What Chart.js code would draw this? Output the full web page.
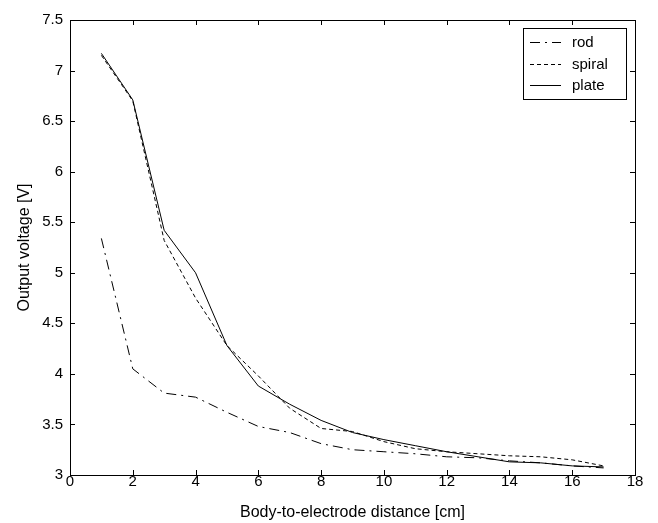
<!DOCTYPE html>
<html>
<head>
<meta charset="utf-8">
<script src="https://cdn.jsdelivr.net/npm/chart.js@4"></script>
<style>
  html, body { margin: 0; padding: 0; background: #fff; }
  #wrap { width: 658px; height: 523px; }
</style>
</head>
<body>
<div id="wrap"><canvas id="voltChart" width="658" height="523"></canvas></div>
<script>
// distances [cm] and measured output voltage [V]
const distance = [1, 2, 3, 4, 5, 6, 7, 8, 9, 10, 11, 12, 13, 14, 15, 16, 17];
const rod    = [5.34, 4.05, 3.81, 3.77, 3.62, 3.48, 3.42, 3.31, 3.25, 3.23, 3.21, 3.18, 3.17, 3.14, 3.12, 3.09, 3.07];
const spiral = [7.15, 6.70, 5.32, 4.75, 4.28, 3.98, 3.66, 3.46, 3.43, 3.33, 3.26, 3.23, 3.21, 3.19, 3.18, 3.15, 3.09];
const plate  = [7.17, 6.71, 5.42, 5.00, 4.28, 3.88, 3.70, 3.54, 3.42, 3.35, 3.29, 3.23, 3.18, 3.13, 3.12, 3.09, 3.08];

const xTicks = [0, 2, 4, 6, 8, 10, 12, 14, 16, 18];
const yTicks = [3, 3.5, 4, 4.5, 5, 5.5, 6, 6.5, 7, 7.5];

const FONT = "'Liberation Sans', Arial, sans-serif";

function toPoints(ys) {
  return distance.map((x, i) => ({ x: x, y: ys[i] }));
}

// matlab style box with inward ticks + line legend
const boxPlugin = {
  id: 'boxPlugin',
  afterDraw(chart) {
    const ctx = chart.ctx;
    const a = chart.chartArea;
    const xs = chart.scales.x, ys = chart.scales.y;
    const tl = 5;
    ctx.save();
    ctx.strokeStyle = '#000';
    ctx.lineWidth = 1;
    ctx.setLineDash([]);
    ctx.strokeRect(Math.round(a.left) + 0.5, Math.round(a.top) + 0.5,
      Math.round(a.right - a.left), Math.round(a.bottom - a.top));
    ctx.beginPath();
    xTicks.forEach(v => {
      const p = Math.round(xs.getPixelForValue(v)) + 0.5;
      ctx.moveTo(p, a.bottom); ctx.lineTo(p, a.bottom - tl);
      ctx.moveTo(p, a.top); ctx.lineTo(p, a.top + tl);
    });
    yTicks.forEach(v => {
      const p = Math.round(ys.getPixelForValue(v)) + 0.5;
      ctx.moveTo(a.left, p); ctx.lineTo(a.left + tl, p);
      ctx.moveTo(a.right, p); ctx.lineTo(a.right - tl, p);
    });
    ctx.stroke();

    // legend
    const lx = 523, ly = 28, lw = 103, lh = 71;
    ctx.fillStyle = '#fff';
    ctx.fillRect(lx, ly, lw, lh);
    ctx.strokeRect(lx + 0.5, ly + 0.5, lw, lh);
    ctx.font = '15px ' + FONT;
    ctx.textBaseline = 'middle';
    ctx.fillStyle = '#000';
    chart.data.datasets.forEach((ds, i) => {
      const y = Math.round(ly + 14 + i * 21.5) + 0.5;
      ctx.setLineDash(ds.borderDash || []);
      ctx.beginPath();
      ctx.moveTo(lx + 7, y);
      ctx.lineTo(lx + 38, y);
      ctx.stroke();
      ctx.setLineDash([]);
      ctx.fillText(ds.label, lx + 49, y);
    });
    ctx.restore();
  }
};

new Chart(document.getElementById('voltChart'), {
  type: 'scatter',
  data: {
    datasets: [
      { label: 'rod', data: toPoints(rod), borderDash: [10, 5, 2, 5] },
      { label: 'spiral', data: toPoints(spiral), borderDash: [4, 3] },
      { label: 'plate', data: toPoints(plate), borderDash: [] }
    ].map(ds => Object.assign(ds, {
      showLine: true,
      borderColor: '#000',
      borderWidth: 1,
      pointRadius: 0,
      tension: 0,
      fill: false
    }))
  },
  options: {
    responsive: false,
    animation: false,
    layout: { padding: { top: 20, right: 23, left: 0, bottom: 0 } },
    plugins: {
      legend: { display: false },
      tooltip: { enabled: false }
    },
    scales: {
      x: {
        type: 'linear',
        min: 0,
        max: 18,
        afterBuildTicks: s => { s.ticks = xTicks.map(v => ({ value: v })); },
        afterFit: s => { s.height = 48; },
        grid: { display: false, drawTicks: false },
        border: { display: false },
        ticks: {
          color: '#000',
          padding: -2,
          font: { family: FONT, size: 15 },
          callback: v => String(v)
        },
        title: {
          display: true,
          text: 'Body-to-electrode distance [cm]',
          color: '#000',
          font: { family: FONT, size: 16 },
          padding: { top: 0, bottom: 1 }
        }
      },
      y: {
        type: 'linear',
        min: 3,
        max: 7.5,
        afterBuildTicks: s => { s.ticks = yTicks.map(v => ({ value: v })); },
        afterFit: s => { s.width = 70; },
        grid: { display: false, drawTicks: false },
        border: { display: false },
        ticks: {
          color: '#000',
          padding: 7,
          font: { family: FONT, size: 15 },
          callback: v => String(v)
        },
        title: {
          display: true,
          text: 'Output voltage [V]',
          color: '#000',
          font: { family: FONT, size: 16 },
          padding: { top: 15, bottom: 0 }
        }
      }
    }
  },
  plugins: [boxPlugin]
});
</script>
</body>
</html>
